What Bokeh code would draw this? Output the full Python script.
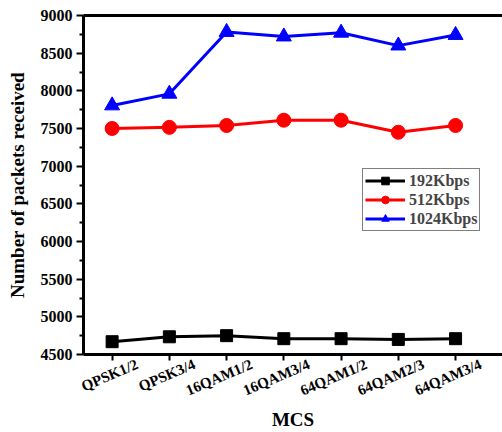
from bokeh.plotting import figure
from bokeh.models import FixedTicker, LinearAxis, Legend, LegendItem, Range1d
from bokeh.embed import file_html
from bokeh.resources import INLINE

categories = ["QPSK1/2", "QPSK3/4", "16QAM1/2", "16QAM3/4", "64QAM1/2", "64QAM2/3", "64QAM3/4"]
s192 = [4670, 4735, 4750, 4710, 4710, 4700, 4710]
s512 = [7500, 7515, 7540, 7610, 7610, 7450, 7540]
s1024 = [7805, 7960, 8780, 8720, 8770, 8600, 8740]
y_ticks = [4500, 5000, 5500, 6000, 6500, 7000, 7500, 8000, 8500, 9000]

xs = list(range(len(categories)))
FONT = "Liberation Serif"
X0, X1 = -0.5, 6.82
SHIFT = 0.44  # label anchor shift (category units) so rotated labels centre under ticks

p = figure(width=502, height=432, output_backend="svg", toolbar_location=None,
           x_range=Range1d(X0, X1), y_range=Range1d(4500, 9000),
           min_border_left=83, min_border_right=0, min_border_top=15, min_border_bottom=0)
p.extra_x_ranges = {"lab": Range1d(X0 - SHIFT, X1 - SHIFT)}
p.outline_line_color = None
p.grid.visible = False
p.background_fill_color = "white"

xa = p.below[0]
ya = p.left[0]

# top border
top = LinearAxis(major_tick_line_color=None, minor_tick_line_color=None,
                 axis_line_width=3, axis_line_color="black", major_label_standoff=0)
top.ticker = FixedTicker(ticks=[])
p.add_layout(top, "above")

xa.ticker = FixedTicker(ticks=xs)
xa.major_label_overrides = {i: "" for i in xs}
xa.major_label_standoff = 0
xa.major_label_text_font_size = "1px"
xa.axis_line_width = 3
xa.major_tick_line_width = 2
xa.major_tick_out = 6
xa.major_tick_in = 0
xa.minor_tick_line_color = None

lab = LinearAxis(x_range_name="lab", axis_line_color=None, major_tick_line_color=None,
                 minor_tick_line_color=None)
lab.ticker = FixedTicker(ticks=xs)
lab.major_label_overrides = {i: c for i, c in zip(xs, categories)}
lab.major_label_orientation = 0.4
lab.major_label_standoff = -3
lab.major_label_text_font = FONT
lab.major_label_text_font_style = "bold"
lab.major_label_text_font_size = "15px"
lab.major_label_text_color = "black"
lab.axis_label = "MCS"
lab.axis_label_text_font = FONT
lab.axis_label_text_font_style = "bold"
lab.axis_label_text_font_size = "19px"
lab.axis_label_text_color = "black"
lab.axis_label_standoff = 0
p.add_layout(lab, "below")

ya.ticker = FixedTicker(ticks=y_ticks, minor_ticks=[t + 250 for t in y_ticks[:-1]])
ya.axis_line_width = 3
ya.major_tick_line_width = 2
ya.minor_tick_line_width = 2
ya.major_tick_out = 7
ya.major_tick_in = 0
ya.minor_tick_out = 4
ya.minor_tick_in = 0
ya.major_label_text_font = FONT
ya.major_label_text_font_style = "bold"
ya.major_label_text_font_size = "16px"
ya.major_label_text_color = "black"
ya.major_label_standoff = 4
ya.axis_label = "Number of packets received"
ya.axis_label_text_font = FONT
ya.axis_label_text_font_style = "bold"
ya.axis_label_text_font_size = "19px"
ya.axis_label_text_color = "black"
ya.axis_label_standoff = 10

r1l = p.line(xs, s192, line_color="black", line_width=3)
r1m = p.scatter(xs, s192, marker="square", size=12, color="black")
r2l = p.line(xs, s512, line_color="red", line_width=3)
r2m = p.scatter(xs, s512, marker="circle", size=14, color="red")
r3l = p.line(xs, s1024, line_color="blue", line_width=3)
r3m = p.scatter(xs, s1024, marker="triangle", size=15, color="blue")

legend = Legend(items=[
    LegendItem(label="192Kbps", renderers=[r1l, r1m]),
    LegendItem(label="512Kbps", renderers=[r2l, r2m]),
    LegendItem(label="1024Kbps", renderers=[r3l, r3m]),
], location=(279, 123))
legend.label_text_font = FONT
legend.label_text_font_style = "bold"
legend.label_text_font_size = "16px"
legend.border_line_color = "black"
legend.border_line_width = 1
legend.padding = 2
legend.spacing = 0
legend.margin = 0
legend.glyph_width = 40
legend.glyph_height = 19
legend.label_standoff = 4
legend.label_height = 19
legend.background_fill_alpha = 1
p.add_layout(legend, "center")

open("out.html", "w").write(file_html(p, INLINE))
